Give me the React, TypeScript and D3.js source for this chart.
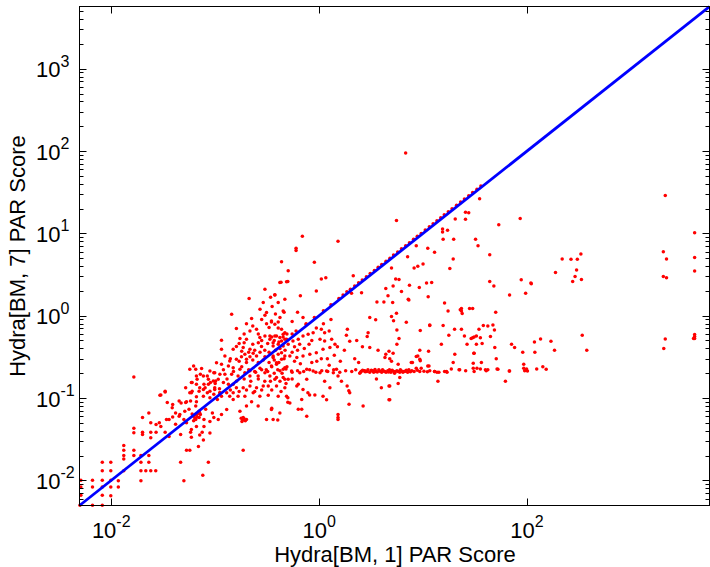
import React from 'react';
import * as d3 from 'd3';

// ---------- data ----------
const axisDomain: [number, number] = [0.00495, 5700];
const xTickExponents = [-2, 0, 2];
const yTickExponents = [-2, -1, 0, 1, 2, 3];
const minorMultiples = [2, 3, 4, 5, 6, 7, 8, 9];
const xTitle = 'Hydra[BM, 1] PAR Score';
const yTitle = 'Hydra[BM, 7] PAR Score';

const lowerTailPoints: [number, number][] = [
  [0.0051, 0.01], [0.0051, 0.0083], [0.0051, 0.0066], [0.005, 0.005],
  [0.0066, 0.01], [0.0066, 0.0083], [0.0066, 0.005],
  [0.0082, 0.01], [0.0082, 0.0083], [0.0082, 0.0066], [0.0082, 0.005], [0.0082, 0.0166], [0.0082, 0.0131],
  [0.0099, 0.0166], [0.0099, 0.0131], [0.0099, 0.01], [0.0099, 0.0083], [0.0099, 0.0065],
  [0.0117, 0.0099], [0.0117, 0.0083],
  [0.0132, 0.0265], [0.0132, 0.0232], [0.0132, 0.02], [0.0132, 0.0182], [0.0132, 0.0131],
  [0.0165, 0.02], [0.0165, 0.0232],
  [0.0193, 0.02], [0.0193, 0.0166], [0.0193, 0.0131], [0.0193, 0.0099],
  [0.0215, 0.0131], [0.023, 0.0166], [0.023, 0.02], [0.024, 0.0131], [0.0268, 0.0131],
  [0.0465, 0.0166], [0.05, 0.0099], [0.076, 0.0115], [0.086, 0.0166],
  [0.057, 0.0232], [0.053, 0.0232], [0.069, 0.0258], [0.059, 0.0335],
  [0.0165, 0.043], [0.0165, 0.038], [0.02, 0.0385], [0.02, 0.036], [0.024, 0.0385], [0.027, 0.0385], [0.024, 0.033],
  [0.029, 0.05], [0.03, 0.045], [0.033, 0.0385], [0.036, 0.034],
  [0.02, 0.058], [0.023, 0.066], [0.03, 0.109], [0.033, 0.118], [0.0165, 0.18],
  [0.039, 0.0835], [0.047, 0.087], [0.053, 0.09], [0.059, 0.116], [0.066, 0.09], [0.077, 0.127],
  [0.086, 0.147], [0.099, 0.133], [0.111, 0.116], [0.129, 0.0726], [0.149, 0.096], [0.173, 0.069],
  [0.2, 0.08], [0.024, 0.05], [0.027, 0.0477], [0.034, 0.055], [0.039, 0.059], [0.0457, 0.063],
  [0.051, 0.069], [0.053, 0.05], [0.059, 0.0415], [0.066, 0.045], [0.078, 0.045], [0.089, 0.052],
  [0.107, 0.055], [0.115, 0.063], [0.071, 0.0355], [0.077, 0.031], [0.089, 0.0375], [0.186, 0.0232],
  [0.065, 0.223], [0.072, 0.194], [0.084, 0.185], [0.097, 0.203], [0.067, 0.169], [0.06, 0.154],
  [0.078, 0.147], [0.09, 0.154], [0.101, 0.161], [0.052, 0.133], [0.06, 0.121], [0.07, 0.121],
  [0.084, 0.116], [0.097, 0.111], [0.105, 0.096], [0.045, 0.092], [0.052, 0.088], [0.058, 0.092],
  [0.065, 0.08], [0.056, 0.073], [0.07, 0.069], [0.081, 0.073], [0.094, 0.066], [0.097, 0.058],
  [0.078, 0.055], [0.062, 0.053], [0.05, 0.055], [0.0416, 0.048], [0.0465, 0.036], [0.058, 0.0385],
  [0.075, 0.0385], [0.0386, 0.076], [0.0346, 0.088], [0.0416, 0.066], [0.045, 0.06], [0.036, 0.055],
  [0.062, 0.06], [0.066, 0.062], [0.07, 0.058], [0.068, 0.065], [0.064, 0.057], [0.072, 0.063],
  [0.06, 0.064], [0.067, 0.059], [0.071, 0.066], [0.065, 0.055],
  [0.178, 0.057], [0.184, 0.054], [0.19, 0.056], [0.195, 0.053], [0.186, 0.058], [0.181, 0.052], [0.2, 0.055],
];

const mainCloudPoints: [number, number][] = [
  [0.435, 4.52], [0.504, 3.51], [0.419, 2.54], [0.486, 2.58], [0.301, 2.1], [0.375, 1.78],
  [0.341, 1.67], [0.468, 1.59], [0.404, 1.45], [0.29, 1.45], [0.353, 1.29], [0.212, 1.62],
  [0.144, 1.04], [0.312, 1.09], [0.301, 1.01], [0.451, 1.14], [0.2, 0.8], [0.224, 0.925],
  [0.312, 0.8], [0.348, 0.84], [0.404, 0.84], [0.25, 0.685], [0.216, 0.653], [0.173, 0.528],
  [0.2, 0.517], [0.115, 0.503], [0.16, 0.422], [0.186, 0.41], [0.216, 0.391], [0.269, 0.542],
  [0.301, 0.567], [0.336, 0.517], [0.389, 0.567], [0.451, 0.595], [0.435, 0.493], [0.486, 0.517],
  [0.361, 0.43], [0.279, 0.422], [0.232, 0.349], [0.193, 0.34], [0.149, 0.391], [0.16, 0.295],
  [0.179, 0.318], [0.2, 0.295], [0.216, 0.318], [0.25, 0.324], [0.301, 0.318], [0.361, 0.324],
  [0.435, 0.356], [0.435, 0.295], [0.389, 0.257], [0.468, 0.234], [0.115, 0.391], [0.124, 0.324],
  [0.138, 0.281], [0.103, 0.269], [0.115, 0.257], [0.134, 0.245], [0.149, 0.234], [0.173, 0.223],
  [0.193, 0.203], [0.144, 0.194], [0.166, 0.185], [0.216, 0.185], [0.259, 0.185], [0.301, 0.203],
  [0.336, 0.185], [0.375, 0.169], [0.451, 0.177], [0.504, 0.169], [0.062, 0.245], [0.057, 0.223],
  [0.074, 0.229], [0.089, 0.213], [0.099, 0.203], [0.111, 0.194], [0.124, 0.194], [0.066, 0.185],
  [0.077, 0.185], [0.086, 0.169], [0.096, 0.161], [0.107, 0.169], [0.12, 0.154], [0.134, 0.147],
  [0.149, 0.147], [0.16, 0.133], [0.186, 0.133], [0.216, 0.14], [0.25, 0.133], [0.29, 0.14],
  [0.324, 0.14], [0.389, 0.14], [0.468, 0.133], [0.059, 0.154], [0.066, 0.147], [0.071, 0.133],
  [0.08, 0.133], [0.089, 0.121], [0.099, 0.127], [0.111, 0.116], [0.129, 0.116], [0.149, 0.116],
  [0.166, 0.105], [0.193, 0.105], [0.232, 0.116], [0.269, 0.105], [0.324, 0.108], [0.404, 0.105],
  [0.033, 0.121], [0.0294, 0.108], [0.057, 0.116], [0.066, 0.104], [0.077, 0.105], [0.089, 0.101],
  [0.115, 0.105], [0.138, 0.105],
  [0.361, 0.055], [0.4, 0.054], [0.312, 0.055], [0.63, 0.073], [0.486, 0.105], [0.523, 0.087],
  [0.259, 0.08], [0.224, 0.09], [0.348, 0.0726], [0.419, 0.066], [0.68, 0.096], [0.78, 0.116],
  [0.76, 0.169], [0.61, 0.14], [0.468, 0.169], [0.389, 0.177],
  [0.348, 0.865], [0.375, 0.79], [0.404, 0.71], [0.435, 0.685], [0.468, 0.62], [0.336, 0.567],
  [0.375, 0.567], [0.419, 0.542], [0.468, 0.518], [0.361, 0.47], [0.404, 0.45], [0.451, 0.43],
  [0.504, 0.45], [0.56, 0.493], [0.63, 0.518], [0.7, 0.567], [0.784, 0.596], [0.876, 0.62],
  [0.94, 0.71], [1.05, 0.685], [1.13, 0.62], [1.02, 0.518], [1.13, 0.493], [1.32, 0.518],
  [1.42, 0.45], [1.27, 0.41], [1.09, 0.391], [0.94, 0.356], [0.814, 0.34], [0.7, 0.324],
  [0.61, 0.31], [0.523, 0.324], [0.468, 0.324], [0.404, 0.34], [0.361, 0.31], [0.389, 0.269],
  [0.348, 0.245], [0.451, 0.223], [0.543, 0.213], [0.652, 0.203], [0.76, 0.223], [0.876, 0.213],
  [1.02, 0.203], [1.18, 0.213], [1.37, 0.203], [1.47, 0.223],
  [1.52, 0.185], [1.64, 0.16], [1.86, 0.14], [1.93, 0.123], [1.13, 0.16], [1.27, 0.133],
  [1.09, 0.105], [0.7, 0.127], [0.63, 0.147], [0.81, 0.109], [0.91, 0.109], [0.5, 0.101],
  [0.5, 0.089], [1.18, 0.095], [1.97, 0.116], [2.65, 0.08], [1.94, 0.084], [1.52, 0.063],
  [1.52, 0.058], [1.52, 0.055], [0.76, 0.06], [0.68, 0.073], [0.35, 0.075],
  [1.52, 8.0], [0.6, 6.6], [0.6, 6.2], [0.9, 4.45], [0.375, 1.8], [0.43, 2.55], [0.5, 2.6],
  [1.05, 2.79], [1.16, 2.9], [0.94, 2.0], [2.13, 3.05], [0.69, 9.2], [0.66, 1.75],
  [2.96, 0.62], [2.9, 0.56], [1.87, 0.685], [1.83, 0.58], [1.97, 0.49], [2.61, 0.42],
  [3.07, 0.41], [3.69, 0.38], [4.38, 0.34], [3.07, 0.95], [3.5, 0.89],
];

const denseCorePoints: [number, number][] = [
  [0.17, 0.46], [0.19, 0.47], [0.23, 0.45], [0.26, 0.47], [0.28, 0.5], [0.32, 0.46], [0.35, 0.55],
  [0.37, 0.5], [0.41, 0.48], [0.45, 0.55], [0.49, 0.6],
  [0.18, 0.37], [0.21, 0.36], [0.24, 0.38], [0.27, 0.36], [0.3, 0.38], [0.33, 0.36], [0.38, 0.38],
  [0.42, 0.4], [0.47, 0.38],
  [0.14, 0.3], [0.17, 0.28], [0.2, 0.27], [0.23, 0.29], [0.26, 0.27], [0.29, 0.29], [0.33, 0.27],
  [0.37, 0.29], [0.41, 0.27], [0.46, 0.3],
  [0.12, 0.22], [0.15, 0.21], [0.18, 0.24], [0.21, 0.22], [0.24, 0.21], [0.27, 0.23], [0.31, 0.22],
  [0.35, 0.24], [0.4, 0.22], [0.44, 0.2], [0.49, 0.24],
  [0.1, 0.15], [0.13, 0.17], [0.16, 0.16], [0.19, 0.17], [0.22, 0.16], [0.26, 0.17], [0.3, 0.16],
  [0.34, 0.16], [0.42, 0.16], [0.48, 0.15],
  [0.11, 0.13], [0.14, 0.125], [0.17, 0.12], [0.2, 0.125], [0.24, 0.12], [0.28, 0.125],
  [0.35, 0.125], [0.43, 0.12],
  [0.55, 0.6], [0.6, 0.65], [0.58, 0.42], [0.65, 0.45], [0.55, 0.36], [0.62, 0.38], [0.72, 0.4],
  [0.8, 0.45], [0.85, 0.5], [0.58, 0.28], [0.66, 0.26], [0.55, 0.17],
  [0.26, 0.6], [0.23, 0.75], [0.28, 0.9], [0.33, 0.72], [0.42, 0.95], [0.46, 1.1], [0.38, 1.05],
  [0.27, 1.2], [0.19, 0.6], [0.16, 0.7],
  [1.2, 0.3], [1.4, 0.33], [1.6, 0.28], [1.75, 0.38], [2.2, 0.3], [2.4, 0.27], [1.25, 0.25],
  [0.95, 0.28], [1.05, 0.3], [0.85, 0.27], [1.5, 0.42], [2.3, 0.5], [1.1, 0.8], [1.3, 0.9],
  [1.25, 0.65], [0.75, 0.8], [0.7, 0.95], [0.62, 1.1], [0.55, 0.85],
];

const bandPoints: [number, number][] = [
  [0.216, 0.215], [0.245, 0.205], [0.28, 0.22], [0.32, 0.21], [0.37, 0.2], [0.42, 0.215],
  [0.48, 0.225], [0.55, 0.205], [0.62, 0.215], [0.71, 0.21], [0.81, 0.22], [0.93, 0.205],
  [1.06, 0.215], [1.21, 0.21], [1.38, 0.22], [1.58, 0.205], [1.8, 0.215], [2.06, 0.21],
  [2.25, 0.22], [2.46, 0.2], [2.55, 0.212], [2.69, 0.215], [2.78, 0.208], [2.88, 0.21],
  [3.07, 0.205], [3.18, 0.218], [3.28, 0.215], [3.51, 0.21], [3.63, 0.207], [3.75, 0.22],
  [4.0, 0.205], [4.15, 0.213], [4.29, 0.21], [4.58, 0.215], [4.75, 0.22], [4.9, 0.205],
  [5.23, 0.21], [5.4, 0.208], [5.6, 0.215], [5.97, 0.205], [6.2, 0.213], [6.55, 0.21],
  [6.9, 0.218], [7.1, 0.205], [7.8, 0.215], [9.3, 0.21], [9.6, 0.23], [11.6, 0.215],
  [12.9, 0.21], [13.6, 0.205], [14.2, 0.205], [16.1, 0.21], [17.0, 0.205], [18.7, 0.225],
  [22.2, 0.22], [25.7, 0.215], [31, 0.21], [33, 0.23], [35.6, 0.225], [40.5, 0.215],
  [42, 0.22], [51.5, 0.225], [67.5, 0.213], [95, 0.215], [99, 0.225], [124, 0.225],
  [2.5, 0.205], [2.62, 0.218], [2.75, 0.215], [2.95, 0.22], [3.35, 0.206], [3.45, 0.222],
  [3.85, 0.212], [4.08, 0.22], [4.4, 0.205], [4.65, 0.207], [5.05, 0.218], [5.32, 0.2],
  [5.75, 0.21], [6.05, 0.22], [6.4, 0.205], [6.75, 0.212], [7.3, 0.22], [7.55, 0.208],
  [8.2, 0.21], [8.8, 0.218], [10.2, 0.212], [11, 0.208],
];

const diagonalPoints: [number, number][] = [
  [0.75, 0.78], [0.9, 0.95], [1.1, 1.15], [1.3, 1.36], [1.55, 1.62], [1.7, 1.78], [1.85, 1.95],
  [2.0, 2.1], [2.2, 2.3], [2.4, 2.52], [2.6, 2.72], [2.85, 2.98], [3.1, 3.25], [3.4, 3.55],
  [3.7, 3.88], [4.0, 4.2], [4.4, 4.6], [4.8, 5.0], [5.2, 5.45], [5.7, 5.95], [6.2, 6.5],
  [6.8, 7.1], [7.4, 7.7], [8.1, 8.5], [8.8, 9.2], [9.6, 10.0], [10.5, 11.0], [11.5, 12.0],
  [12.5, 13.1], [13.6, 14.2], [14.8, 15.5], [16.0, 16.8], [17.5, 18.3], [19.0, 19.9],
  [21.0, 22.0], [23.0, 24.0], [25.0, 26.2], [27.5, 28.7], [30.0, 31.3], [33.0, 34.4], [36.0, 37.5],
];

const rightPoints: [number, number][] = [
  [5.55, 14.3], [6.8, 95], [53.5, 12.7], [86, 15.2], [35, 26.3], [25.6, 18.1], [27.5, 17.8],
  [25.6, 14.8], [20.4, 15], [17.2, 10.9], [15.4, 11.3], [15.4, 10.4], [19.7, 8.5], [15.6, 8.5],
  [32, 8.5], [33.8, 7.1], [43.8, 5.5], [19.5, 4.9], [18.1, 3.75], [12.9, 5.9], [11.1, 6.6],
  [10, 4.25], [8.9, 4.0], [7.1, 5.2], [8.6, 7.1], [8.2, 3.8], [2.56, 1.9], [2.05, 1.88],
  [12.1, 2.54], [10.8, 2.5], [9.2, 2.2], [7.4, 2.35], [43.8, 2.6], [48, 2.3], [88, 2.74],
  [109, 2.5], [68, 1.78], [97, 1.88], [16.1, 1.43], [17.4, 1.14], [23.4, 1.22], [23.4, 1.14],
  [23.8, 1.06], [28, 1.22], [30, 1.22], [50, 1.1], [15.6, 0.76], [11.6, 0.76], [17.7, 0.58],
  [15, 0.45], [20.1, 0.685], [23.4, 0.685], [26.5, 0.45], [30, 0.54], [32.6, 0.567], [37, 0.46],
  [38, 0.76], [42, 0.75], [47, 0.77], [44.5, 0.56], [30.8, 0.35], [36.4, 0.27], [50.6, 0.3],
  [71, 0.45], [76, 0.41], [91, 0.36], [93, 0.257], [119, 0.36], [118, 0.48], [142, 0.24],
  [153, 0.223], [101, 0.213], [68, 0.213], [52.5, 0.223], [39.8, 0.22], [30.4, 0.264],
  [30.4, 0.23], [22.5, 0.22], [16.8, 0.21], [19.5, 0.27], [12.9, 0.21], [13.9, 0.16], [62, 0.16],
  [8.9, 0.324], [9.4, 0.283], [11.1, 0.245], [7.7, 0.27], [4.7, 0.37], [4.3, 0.31], [4.7, 0.14],
  [3.97, 0.133], [4.7, 0.095], [3.56, 0.17],
  [4.97, 3.8], [5.45, 2.79], [5.87, 2.75], [4.38, 2.14], [3.6, 1.47], [4.2, 1.47], [4.6, 1.75],
  [7.2, 1.59], [4.97, 0.98], [5.55, 1.07], [6.9, 0.83], [5.6, 0.67], [5.6, 0.45],
  [5.15, 2.3], [6.2, 1.97], [11.2, 1.7], [7.3, 1.55], [5.1, 1.45], [22.8, 1.18], [5.2, 0.87],
  [11.6, 0.77], [9.4, 0.66], [34.5, 0.685], [48.6, 0.67], [25, 0.567], [29, 0.53], [31, 0.55],
  [35.6, 0.54], [5.87, 0.53], [32.6, 0.45], [49, 0.41], [31, 0.35], [9.3, 0.38], [11.3, 0.37],
  [5.15, 0.35], [20.2, 0.34], [8.6, 0.32], [93, 0.23], [4.78, 0.3], [4.97, 0.28], [5.76, 0.257],
  [7.9, 0.27], [9.3, 0.296], [11.4, 0.245], [8.6, 0.23], [5.97, 0.177], [5.76, 0.15],
  [4.78, 0.14], [4.78, 0.095],
  [2140, 28.8], [4100, 10.2], [2050, 6.0], [2200, 4.9], [4100, 5.1], [4100, 3.5], [2050, 3.0],
  [2200, 2.9], [218, 4.9], [265, 4.85], [305, 4.85], [330, 5.6], [188, 3.35], [300, 3.6],
  [290, 3.0], [275, 2.6], [334, 2.75], [110, 2.45], [340, 0.58], [135, 0.52], [170, 0.49],
  [184, 0.38], [376, 0.38], [2140, 0.52], [2070, 0.4], [4100, 0.59], [4100, 0.56], [4100, 0.53],
  [4000, 0.53],
];

// ---------- layout ----------
const W = 710;
const H = 567;
const plot = { left: 79.5, right: 709.5, top: 6.5, bottom: 505.5 };
const FONT = '"Liberation Sans", Arial, Helvetica, sans-serif';

export default function App() {
  const x = d3.scaleLog().domain(axisDomain).range([plot.left, plot.right]);
  const y = d3.scaleLog().domain(axisDomain).range([plot.bottom, plot.top]);

  const allPoints = [
    ...lowerTailPoints,
    ...mainCloudPoints,
    ...denseCorePoints,
    ...bandPoints,
    ...diagonalPoints,
    ...rightPoints,
  ];

  const minorY: number[] = [];
  for (let e = -3; e <= 3; e++) {
    for (const m of minorMultiples) {
      const v = m * Math.pow(10, e);
      if (v > axisDomain[0] && v < axisDomain[1]) minorY.push(v);
    }
  }

  const line = d3
    .line<number>()
    .x((d) => x(d))
    .y((d) => y(d));

  const majorLen = 7;
  const minorLen = 4;

  return (
    <svg
      width={W}
      height={H}
      style={{ position: 'absolute', left: 0, top: 0, background: '#fff' }}
      fontFamily={FONT}
    >
      <rect x={0} y={0} width={W} height={H} fill="#fff" />
      {/* points */}
      <g fill="#ff0000">
        {allPoints.map((p, i) => (
          <circle key={i} cx={x(p[0])} cy={y(p[1])} r={1.75} />
        ))}
      </g>
      {/* y = x line */}
      <path d={line(axisDomain) || ''} stroke="#0000ff" strokeWidth={2.8} fill="none" />

      {/* frame */}
      <rect
        x={plot.left}
        y={plot.top}
        width={plot.right - plot.left}
        height={plot.bottom - plot.top}
        fill="none"
        stroke="#000"
        strokeWidth={1}
      />

      {/* ticks */}
      <g stroke="#000" strokeWidth={1}>
        {xTickExponents.map((e) => {
          const px = Math.round(x(Math.pow(10, e))) + 0.5;
          return (
            <g key={'xt' + e}>
              <line x1={px} x2={px} y1={plot.bottom} y2={plot.bottom - majorLen} />
              <line x1={px} x2={px} y1={plot.top} y2={plot.top + majorLen} />
            </g>
          );
        })}
        {yTickExponents.map((e) => {
          const py = Math.round(y(Math.pow(10, e))) + 0.5;
          return (
            <g key={'yt' + e}>
              <line x1={plot.left} x2={plot.left + majorLen} y1={py} y2={py} />
              <line x1={plot.right} x2={plot.right - majorLen} y1={py} y2={py} />
            </g>
          );
        })}
        {minorY.map((v, i) => {
          const py = Math.round(y(v)) + 0.5;
          return (
            <g key={'ym' + i}>
              <line x1={plot.left} x2={plot.left + minorLen} y1={py} y2={py} />
              <line x1={plot.right} x2={plot.right - minorLen} y1={py} y2={py} />
            </g>
          );
        })}
      </g>

      {/* x tick labels */}
      {xTickExponents.map((e) => (
        <text
          key={'xl' + e}
          x={x(Math.pow(10, e))}
          y={plot.bottom + 32}
          textAnchor="middle"
          fontSize={22}
          fill="#000"
        >
          <tspan>10</tspan>
          <tspan dy={-10.7} fontSize={16}>
            {String(e)}
          </tspan>
        </text>
      ))}

      {/* y tick labels */}
      {yTickExponents.map((e) => (
        <text
          key={'yl' + e}
          x={36}
          y={y(Math.pow(10, e)) + 8.7}
          textAnchor="start"
          fontSize={22}
          fill="#000"
        >
          <tspan>10</tspan>
          <tspan dy={-10.7} fontSize={16}>
            {String(e)}
          </tspan>
        </text>
      ))}

      {/* axis titles */}
      <text x={395} y={561.5} textAnchor="middle" fontSize={22} fill="#000">
        {xTitle}
      </text>
      <text
        transform={`translate(25, ${(plot.top + plot.bottom) / 2}) rotate(-90)`}
        textAnchor="middle"
        fontSize={22}
        fill="#000"
      >
        {yTitle}
      </text>
    </svg>
  );
}
